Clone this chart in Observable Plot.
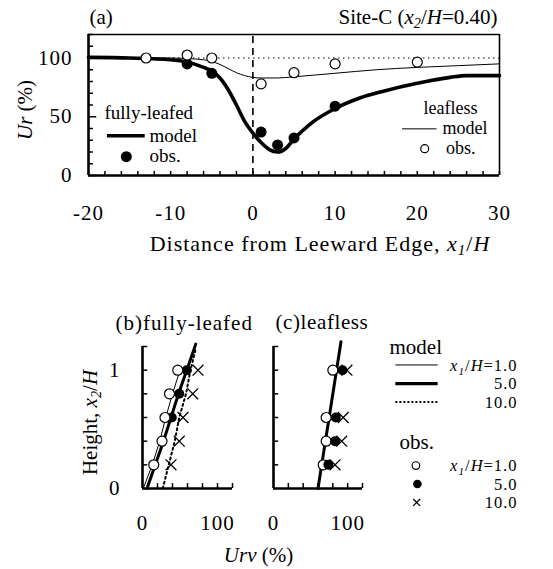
<!DOCTYPE html>
<html><head><meta charset="utf-8">
<script src="https://cdn.jsdelivr.net/npm/d3@7"></script>
<script src="https://cdn.jsdelivr.net/npm/@observablehq/plot@0.6"></script>
<style>
html,body{margin:0;padding:0;background:#fff;}
#chart{position:relative;width:553px;height:569px;overflow:hidden;background:#fff;}
#chart svg{position:absolute;overflow:visible;}
text{white-space:pre;}
</style></head><body><div id="chart"></div>
<script>
// ---------- Panel (a): Ur vs x1/H ----------
const xTicksA = [-20, -10, 0, 10, 20, 30];
const yTicksA = [0, 50, 100];
const xMinorA = [-20,-18,-16,-14,-12,-10,-8,-6,-4,-2,0,2,4,6,8,10,12,14,16,18,20,22,24,26,28,30];
const yMinorA = [10,20,30,40,60,70,80,90,110,120];

const xLeafedModel  = [-20,-15,-10,-8,-6,-5,-4,-3,-2,-1,0,1,2,3,4,5,7,10,13,16,20,24,26,30];
const urLeafedModel = [100.5,100,98.5,96.5,92,89,83,73,60,46,36,28,22,20,23,31,44,57,66,72,78.5,83.5,85,85];
const xLeaflessModel  = [-20,-10,-8,-6,-5,-4,-3,-2,-1,0,1,3,5,10,15,20,25,30];
const urLeaflessModel = [100,100,99.5,98.5,97,94.5,91,87.5,85,83.5,83,83,84,87,90,92,93.5,95];
const xLeafedObs  = [-8,-5,1,3,5,10];
const urLeafedObs = [95,87,37,26,32,59];
const xLeaflessObs  = [-13,-8,-5,1,5,10,20];
const urLeaflessObs = [100,102.5,100,78,87.5,95,96.5];

// ---------- Panels (b),(c): height vs Urv ----------
const xTicksBC = [0, 100];
const yTicksBC = [0, 1];
const xMinorBC = [20,40,60,80,100,120];
const yMinorBC = [0.2,0.4,0.6,0.8,1.0,1.2];

const bObsHeights = [0.2,0.4,0.6,0.8,1.0];
const bOpen  = [15,26,30,36,47];
const bFilledHeights = [0.6,0.8,1.0];
const bFilled = [39,49,59];
const bCross = [38,49,54,67,74];
const bThinHeights = [0,0.2,0.4,0.6,0.8,1.0];
const bThin  = [1,13,23,31,40,50];
const bThickHeights = [0,0.2,0.4,0.6,0.8,1.0,1.22];
const bThick = [6,17,28,38,48,59,71];
const bDotHeights = [0,0.2,0.4,0.6,0.8,1.0,1.18];
const bDotted = [27,35,43,49,58,64,71];

const cObsHeights = [0.2,0.4,0.6,1.0];
const cOpen   = [67,71,71,80];
const cFilled = [74,83,84,93];
const cCross  = [83,92,94,99];
const cThickHeights = [0,1.24];
const cThick = [60,91];

const zip = (xs, ys) => xs.map((x, i) => ({x, y: ys[i]}));
const serif = "'Liberation Serif','Times New Roman',serif";
const baseStyle = {fontFamily: serif, fontSize: "20px", color: "#000", background: "none", overflow: "visible"};
const fmt = d => String(d);

const chart = document.getElementById("chart");
const SVGNS = "http://www.w3.org/2000/svg";
// letter spacing for texts that are wider in the reference
const spacing = new Map([
  ["(b)fully-leafed", "1px"], ["(c)leafless", "0.6px"],
  ["Distance from Leeward Edge, <i>x</i><sub>1</sub>/<i>H</i>", "1px"]
]);
function place(svg, left, top) {
  svg.style.left = left + "px"; svg.style.top = top + "px";
  chart.appendChild(svg);
  svg.querySelectorAll('g[aria-label$="tick label"] text').forEach(t => t.setAttribute("letter-spacing", "1px"));
  svg.querySelectorAll("text").forEach(t => { const s = spacing.get(t.textContent); if (s) t.setAttribute("letter-spacing", s); });
  richify(svg);
}
// turn simple <i>..</i> / <sub>..</sub> markup inside Plot texts into tspans
function fillRich(el, s) {
  while (el.firstChild) el.removeChild(el.firstChild);
  const re = /<(i|sub)>(.*?)<\/\1>|([^<]+)/g; let m, sub = false;
  while ((m = re.exec(s))) {
    const ts = document.createElementNS(SVGNS, "tspan");
    if (m[1] === "sub") {
      ts.textContent = m[2]; ts.setAttribute("font-size", "0.68em");
      ts.setAttribute("dy", "4"); ts.setAttribute("font-style", "italic"); sub = true;
    } else {
      ts.textContent = m[3] !== undefined ? m[3] : m[2];
      if (m[1] === "i") ts.setAttribute("font-style", "italic");
      if (sub) { ts.setAttribute("dy", "-4"); sub = false; }
    }
    el.appendChild(ts);
  }
}
function richify(root) {
  root.querySelectorAll("text").forEach(t => {
    if (!t.textContent.includes("<")) return;
    const lines = Array.from(t.children).filter(c => c.tagName === "tspan");
    (lines.length ? lines : [t]).forEach(el => fillRich(el, el.textContent));
  });
}
const txt = (s, o) => Plot.text([s], {text: d => d, lineAnchor: "middle", ...o});

// ----- Panel (a)
const plotA = Plot.plot({
  width: 553, height: 262,
  marginTop: 34, marginRight: 54, marginBottom: 87, marginLeft: 88,
  x: {domain: [-20, 30]}, y: {domain: [0, 120]},
  style: baseStyle,
  marks: [
    Plot.ruleY([100], {x1: -20, x2: 30, strokeDasharray: "1.5,3.5", strokeWidth: 1.2}),
    Plot.ruleX([0], {y1: 0, y2: 120, strokeDasharray: "7,5", strokeWidth: 1.6}),
    Plot.ruleX(xMinorA, {y1: 0, y2: 3.5, strokeWidth: 1.5}),
    Plot.ruleY(yMinorA, {x1: -20, x2: -19.4, strokeWidth: 1.5}),
    Plot.ruleY(yTicksA, {x1: -20, x2: -19.0, strokeWidth: 1.5}),
    Plot.ruleX([-20], {y1: 0, y2: 120, strokeWidth: 2.6}),
    Plot.ruleY([0], {x1: -20, x2: 30, strokeWidth: 2.6}),
    Plot.ruleY([120], {x1: -20, x2: 30, strokeWidth: 1.6}),
    Plot.ruleX([30], {y1: 0, y2: 120, strokeWidth: 1.6}),
    Plot.line(zip(xLeaflessModel, urLeaflessModel), {x: "x", y: "y", curve: "monotone-x", strokeWidth: 1}),
    Plot.line(zip(xLeafedModel, urLeafedModel), {x: "x", y: "y", curve: "monotone-x", strokeWidth: 3.6}),
    Plot.dot(zip(xLeafedObs, urLeafedObs), {x: "x", y: "y", r: 5.5, fill: "black", stroke: "none"}),
    Plot.dot(zip(xLeaflessObs, urLeaflessObs), {x: "x", y: "y", r: 5, fill: "white", stroke: "black", strokeWidth: 1.2}),
    Plot.axisX(xTicksA, {tickSize: 0, tickPadding: 30, fontSize: 21, tickFormat: fmt, label: null}),
    Plot.axisY(yTicksA, {tickSize: 0, tickPadding: 16, fontSize: 21, tickFormat: fmt, label: null}),
    // titles and axis labels
    txt("(a)", {frameAnchor: "top-left", textAnchor: "start", dx: 1, dy: -17, fontSize: 21}),
    txt("Site-C (<i>x</i><sub>2</sub>/<i>H</i>=0.40)", {frameAnchor: "top-right", textAnchor: "end", dx: -2, dy: -17, fontSize: 21}),
    txt("<i>Ur</i> (%)", {frameAnchor: "left", textAnchor: "middle", rotate: -90, dx: -63, dy: 5, fontSize: 21}),
    txt("Distance from Leeward Edge, <i>x</i><sub>1</sub>/<i>H</i>", {frameAnchor: "bottom", textAnchor: "middle", dx: 26, dy: 68, fontSize: 22}),
    // legend: fully-leafed
    txt("fully-leafed", {frameAnchor: "bottom-left", textAnchor: "start", dx: 16, dy: -63, fontSize: 19}),
    Plot.ruleY([33.8], {x1: -17.7, x2: -13.1, strokeWidth: 3.6}),
    txt("model", {frameAnchor: "bottom-left", textAnchor: "start", dx: 61, dy: -40, fontSize: 19}),
    Plot.dot([{x: -15.4, y: 16}], {x: "x", y: "y", r: 5.5, fill: "black", stroke: "none"}),
    txt("obs.", {frameAnchor: "bottom-left", textAnchor: "start", dx: 61, dy: -20, fontSize: 19}),
    // legend: leafless
    txt("leafless", {frameAnchor: "bottom-right", textAnchor: "end", dx: -22, dy: -67, fontSize: 18}),
    Plot.ruleY([39.7], {x1: 18.2, x2: 22.4, strokeWidth: 1}),
    txt("model", {frameAnchor: "bottom-right", textAnchor: "end", dx: -12, dy: -47, fontSize: 18}),
    Plot.dot([{x: 20.9, y: 22.8}], {x: "x", y: "y", r: 4, fill: "white", stroke: "black", strokeWidth: 1.2}),
    txt("obs.", {frameAnchor: "bottom-right", textAnchor: "end", dx: -24, dy: -27, fontSize: 18})
  ]
});
place(plotA, 0, 0);

// ----- common axes for (b),(c)
function frameMarks() {
  return [
    Plot.ruleX(xMinorBC, {y1: 0, y2: 0.042, strokeWidth: 1.5}),
    Plot.ruleY(yMinorBC, {x1: 0, x2: 7, strokeWidth: 1.5}),
    Plot.ruleX([0], {y1: 0, y2: 1.2, strokeWidth: 2.6}),
    Plot.ruleY([0], {x1: 0, x2: 120, strokeWidth: 2.6}),
    Plot.axisX(xTicksBC, {tickSize: 0, tickPadding: 27, fontSize: 21, tickFormat: fmt, label: null})
  ];
}

// ----- Panel (b)
const plotB = Plot.plot({
  width: 250, height: 269,
  marginTop: 46, marginRight: 18, marginBottom: 81, marginLeft: 142,
  x: {domain: [0, 120]}, y: {domain: [0, 1.2]},
  style: baseStyle,
  marks: [
    ...frameMarks(),
    Plot.axisY(yTicksBC, {tickSize: 0, tickPadding: 22, fontSize: 21, tickFormat: fmt, label: null}),
    Plot.line(zip(bThin, bThinHeights), {x: "x", y: "y", strokeWidth: 1}),
    Plot.line(zip(bThick, bThickHeights), {x: "x", y: "y", strokeWidth: 3}),
    Plot.line(zip(bDotted, bDotHeights), {x: "x", y: "y", strokeWidth: 2, strokeDasharray: "2,3"}),
    Plot.dot(zip(bCross, bObsHeights), {x: "x", y: "y", symbol: "times", r: 5, stroke: "black", strokeWidth: 1.3}),
    Plot.dot(zip(bFilled, bFilledHeights), {x: "x", y: "y", r: 5, fill: "black", stroke: "none"}),
    Plot.dot(zip(bOpen, bObsHeights), {x: "x", y: "y", r: 5, fill: "white", stroke: "black", strokeWidth: 1.2}),
    txt("(b)fully-leafed", {frameAnchor: "top-left", textAnchor: "start", dx: -27, dy: -23, fontSize: 21}),
    txt("Height, <i>x</i><sub>2</sub>/<i>H</i>", {frameAnchor: "left", textAnchor: "middle", rotate: -90, dx: -52, dy: 5, fontSize: 21})
  ]
});
place(plotB, 0, 300);

// ----- Panel (c) with legend
const plotC = Plot.plot({
  width: 303, height: 269,
  marginTop: 46, marginRight: 191, marginBottom: 81, marginLeft: 23,
  x: {domain: [0, 120]}, y: {domain: [0, 1.2], axis: null},
  style: baseStyle,
  marks: [
    ...frameMarks(),
    Plot.line(zip(cThick, cThickHeights), {x: "x", y: "y", strokeWidth: 3}),
    Plot.dot(zip(cOpen, cObsHeights), {x: "x", y: "y", r: 5, fill: "white", stroke: "black", strokeWidth: 1.2}),
    Plot.dot(zip(cCross, cObsHeights), {x: "x", y: "y", symbol: "times", r: 5, stroke: "black", strokeWidth: 1.3}),
    Plot.dot(zip(cFilled, cObsHeights), {x: "x", y: "y", r: 5, fill: "black", stroke: "none"}),
    txt("(c)leafless", {frameAnchor: "top-left", textAnchor: "start", dx: 2, dy: -24, fontSize: 21}),
    txt("<i>Urv</i> (%)", {frameAnchor: "bottom-left", textAnchor: "middle", dx: -15, dy: 67, fontSize: 21}),
    // legend
    txt("model", {frameAnchor: "top-right", textAnchor: "start", dx: 27, dy: 1, fontSize: 21}),
    Plot.ruleY([1.044], {x1: 165, x2: 222, strokeWidth: 1}),
    Plot.ruleY([0.887], {x1: 165, x2: 222, strokeWidth: 3.2}),
    Plot.ruleY([0.731], {x1: 165, x2: 222, strokeWidth: 2, strokeDasharray: "2,2"}),
    txt("<i>x</i><sub>1</sub>/<i>H</i>=1.0\n5.0\n10.0", {frameAnchor: "top-right", textAnchor: "end", dx: 155, dy: 37, fontSize: 16.5, lineHeight: 1.121}),
    txt("obs.", {frameAnchor: "top-right", textAnchor: "start", dx: 37, dy: 96, fontSize: 21}),
    Plot.dot([{x: 192, y: 0.194}], {x: "x", y: "y", r: 3.8, fill: "white", stroke: "black", strokeWidth: 1.2}),
    Plot.dot([{x: 194, y: 0.038}], {x: "x", y: "y", r: 4.3, fill: "black", stroke: "none"}),
    Plot.dot([{x: 193, y: -0.118}], {x: "x", y: "y", symbol: "times", r: 3.2, stroke: "black", strokeWidth: 1.3}),
    txt("<i>x</i><sub>1</sub>/<i>H</i>=1.0\n5.0\n10.0", {frameAnchor: "top-right", textAnchor: "end", dx: 155, dy: 137.5, fontSize: 16.5, lineHeight: 1.121})
  ]
});
place(plotC, 250, 300);
// letter spacing for the legend label blocks (keeps their reference width at a smaller size)
plotC.querySelectorAll("text").forEach(t => { if (t.textContent.startsWith("x1/H")) t.setAttribute("letter-spacing", "1px"); });
</script></body></html>
